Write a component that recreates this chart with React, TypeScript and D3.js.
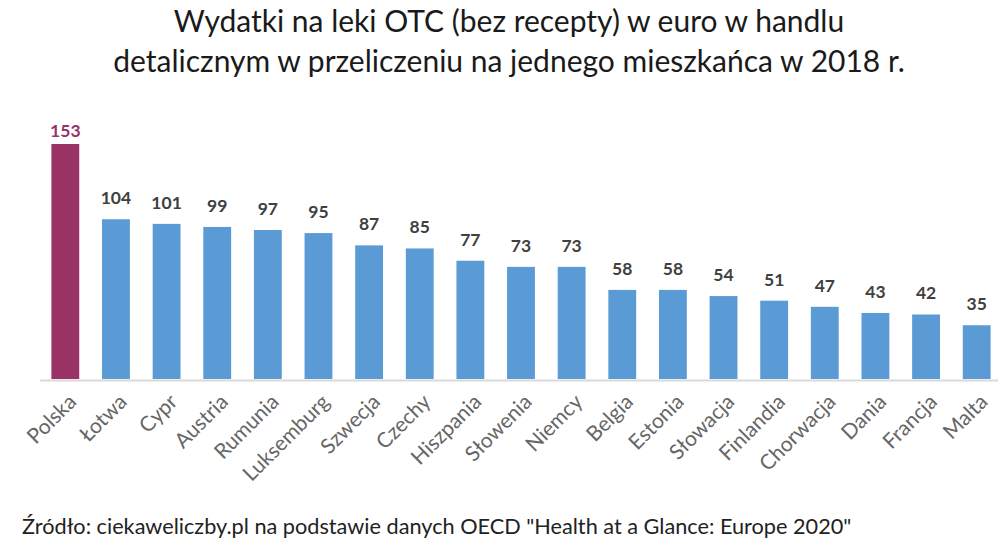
import React from "react";
import { scaleBand, scaleLinear } from "d3";

const countries = [
  "Polska", "Łotwa", "Cypr", "Austria", "Rumunia", "Luksemburg", "Szwecja", "Czechy",
  "Hiszpania", "Słowenia", "Niemcy", "Belgia", "Estonia", "Słowacja", "Finlandia",
  "Chorwacja", "Dania", "Francja", "Malta",
];
const values = [153, 104, 101, 99, 97, 95, 87, 85, 77, 73, 73, 58, 58, 54, 51, 47, 43, 42, 35];
const highlight = "Polska";

const titleLines = [
  "Wydatki na leki OTC (bez recepty) w euro w handlu",
  "detalicznym w przeliczeniu na jednego mieszkańca w 2018 r.",
];
const source = 'Źródło: ciekaweliczby.pl na podstawie danych OECD "Health at a Glance: Europe 2020"';

const FONT = "Lato, 'Open Sans', sans-serif";

export default function App() {
  const width = 1000;
  const height = 550;
  const baseY = 379;

  const x = scaleBand<string>()
    .domain(countries)
    .range([40, 1002])
    .paddingInner(0.45)
    .paddingOuter(0.225);

  const y = scaleLinear().domain([0, 153]).range([baseY, 144]);

  return (
    <svg
      width={width}
      height={height}
      style={{ position: "absolute", left: 0, top: 0, background: "#fff" }}
      fontFamily={FONT}
    >
      {titleLines.map((t, i) => (
        <text key={i} x={509} y={32 + i * 40} textAnchor="middle" fontSize={30} fill="#1a1a1a">
          {t}
        </text>
      ))}

      <line x1={40} x2={998} y1={baseY + 1.5} y2={baseY + 1.5} stroke="#d9d9d9" strokeWidth={2} />

      {countries.map((c, i) => {
        const cx = (x(c) ?? 0) + x.bandwidth() / 2;
        const isHi = c === highlight;
        return (
          <g key={c}>
            <rect
              x={x(c)}
              y={y(values[i])}
              width={x.bandwidth()}
              height={baseY - y(values[i])}
              fill={isHi ? "#993366" : "#5B9BD5"}
            />
            <text
              x={cx}
              y={y(values[i]) - (isHi ? 7 : 15)}
              textAnchor="middle"
              fontSize={17.5}
              fontWeight="bold"
              fill={isHi ? "#993366" : "#404040"}
            >
              {values[i]}
            </text>
            <text
              transform={`translate(${cx + 7}, ${baseY + 19}) rotate(-45)`}
              textAnchor="end"
              dy="0.35em"
              fontSize={21}
              fill="#666"
            >
              {c}
            </text>
          </g>
        );
      })}

      <text x={22} y={534} fontSize={21.7} fill="#222">
        {source}
      </text>
    </svg>
  );
}
